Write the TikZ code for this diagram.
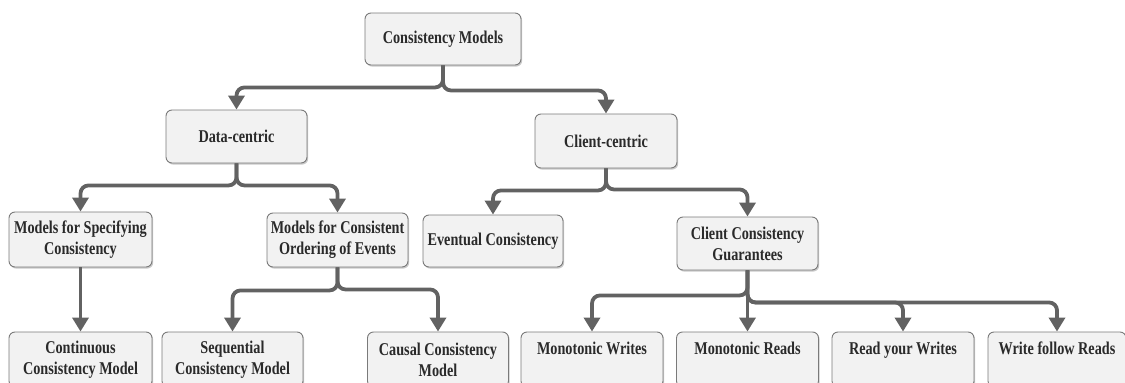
\documentclass[tikz,border=0pt]{standalone}
\usepackage{fontspec}
\setmainfont{Liberation Serif}[FakeStretch=0.79]
\usetikzlibrary{arrows.meta,shadows}
\definecolor{boxfill}{HTML}{F2F2F2}
\definecolor{boxline}{HTML}{7A7A7A}
\definecolor{linkgray}{HTML}{626262}
\definecolor{txt}{HTML}{2A2A2A}
\begin{document}
\begin{tikzpicture}[x=1pt,y=-1pt,
  box/.style={draw=boxline, line width=0.9pt, fill=boxfill, rounded corners=6pt,
    align=center, text=txt, font=\fontsize{18}{21}\selectfont\bfseries, inner sep=2pt,
    drop shadow={shadow xshift=1.2pt, shadow yshift=-1.6pt, opacity=0.35, fill=black!60}},
  sz/.style 2 args={minimum width=#1pt, minimum height=#2pt},
  lowtext/.style={text height=12pt, text depth=23pt},
  link/.style={draw=linkgray, line width=3.8pt, rounded corners=8pt,
    -{Triangle[width=16pt,length=14pt]}}]
\path[use as bounding box, clip] (0,0) rectangle (1125,383);

% top levels
\node[box, sz={156}{52}] (root) at (443,39) {Consistency Models};
\node[box, sz={141}{53}] (data) at (236.5,136.5) {Data-centric};
\node[box, sz={142}{54}] (client) at (606,141) {Client-centric};

% second level
\node[box, sz={143}{55}] (spec) at (80.5,239.5) {Models for Specifying\\Consistency};
\node[box, sz={141}{54}] (order) at (337.5,240) {Models for Consistent\\Ordering of Events};
\node[box, sz={140}{52}] (event) at (493,241) {Eventual Consistency};
\node[box, sz={141}{53}] (ccg) at (747.5,243.5) {Client Consistency\\Guarantees};

% leaves
\node[box, sz={143}{55}] (cont) at (80.5,359.5) {Continuous\\Consistency Model};
\node[box, sz={141}{55}] (seq) at (232.5,359.5) {Sequential\\Consistency Model};
\node[box, sz={141}{55}] (causal) at (438,359.5) {Causal Consistency\\Model};
\node[box, sz={142}{55}, lowtext] (mw) at (592,359.5) {Monotonic Writes};
\node[box, sz={142}{55}, lowtext] (mr) at (747.5,359.5) {Monotonic Reads};
\node[box, sz={142}{55}, lowtext] (ryw) at (903,359.5) {Read your Writes};
\node[box, sz={138}{55}, lowtext] (wfr) at (1057,359.5) {Write follow Reads};

% connectors
\draw[link] (root.south) -- ++(0,22) -| (data.north);
\draw[link] (root.south) -- ++(0,25) -| (client.north);
\draw[link] (data.south) -- ++(0,22) -| (spec.north);
\draw[link] (data.south) -- ++(0,22) -| (order.north);
\draw[link] (client.south) -- ++(0,22) -| (event.north);
\draw[link] (client.south) -- ++(0,21) -| (ccg.north);
\draw[link] (spec.south) -- (cont.north);
\draw[link] (order.south) -- ++(0,23) -| (seq.north);
\draw[link] (order.south) -- ++(0,22) -| (causal.north);
\draw[link] (ccg.south) -- ++(0,25) -| (mw.north);
\draw[link] (ccg.south) -- (mr.north);
\draw[link] (ccg.south) -- ++(0,32) -| (ryw.north);
\draw[link] (ccg.south) -- ++(0,32) -| (wfr.north);
\end{tikzpicture}
\end{document}
